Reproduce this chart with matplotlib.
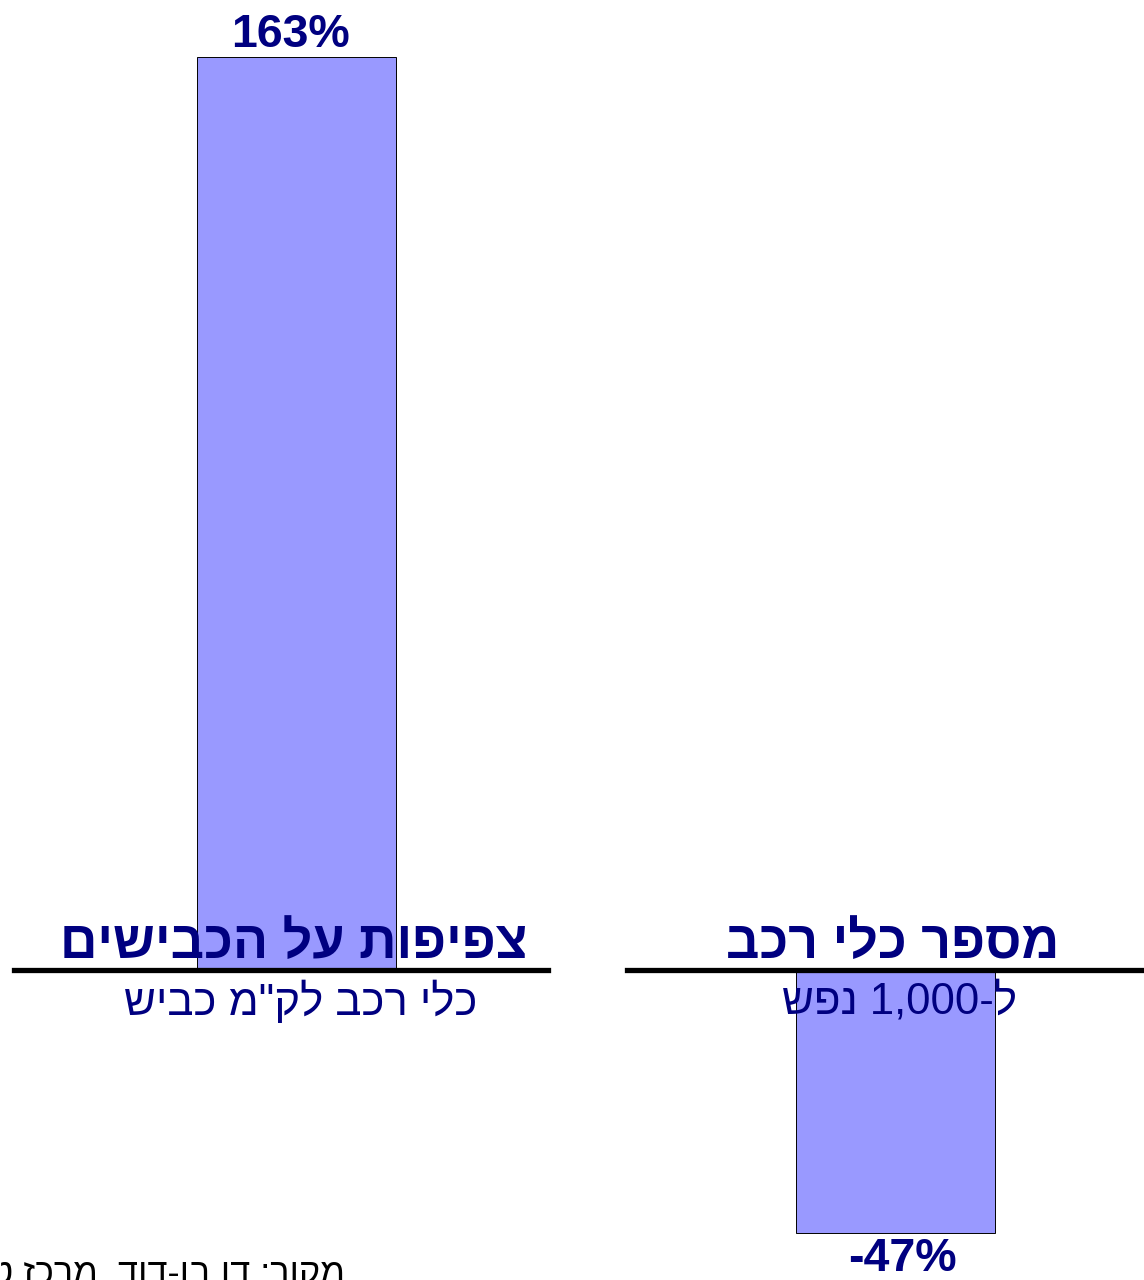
import re

import matplotlib
matplotlib.use("Agg")
import matplotlib.pyplot as plt

plt.rcParams['font.family'] = ['Liberation Sans', 'DejaVu Sans']

# data
titles = ["צפיפות על הכבישים", "מספר כלי רכב"]
subtitles = ['כלי רכב לק"מ כביש', "ל-1,000 נפש"]
changes = [163, -47]
source = "מקור: דן בן-דוד, מרכז טאוב"

NAVY = "#000080"
BAR = "#9999FF"


def rtl(text):
    """matplotlib has no bidi: flip to visual order, keep number runs as they are"""
    flipped = text[::-1]
    return re.sub(r"[0-9][0-9,.]*", lambda m: m.group(0)[::-1], flipped)


fig = plt.figure(figsize=(11.44, 12.8), dpi=100)
ax = fig.add_axes([0, 0, 1, 1])

# zero line sits at y=970px, bar centres at 296.5px and 895.5px
px_per_unit = 599
ax.set_xlim(-296.5 / px_per_unit, (1144 - 296.5) / px_per_unit)
px_per_pct = 5.6
ax.set_ylim(-(1280 - 970) / px_per_pct, 970 / px_per_pct)
ax.axis("off")

xs = list(range(len(changes)))
ax.bar(xs, changes, width=199 / px_per_unit, color=BAR,
       edgecolor="black", linewidth=0.7, zorder=1)

ax.axhline(0, xmin=14 / 1144, xmax=548 / 1144, color="black", lw=3.8, zorder=3)
ax.axhline(0, xmin=627 / 1144, xmax=1.0, color="black", lw=3.8, zorder=3)

for x, val, t, s in zip(xs, changes, titles, subtitles):
    ax.annotate(rtl(t), (x, 0), xytext=(-2, 1), textcoords="offset points",
                ha="center", va="bottom", fontsize=37.5, fontweight="bold",
                color=NAVY, zorder=4)
    ax.annotate(rtl(s), (x, 0), xytext=(3, -8), textcoords="offset points",
                ha="center", va="top", fontsize=31.5, color=NAVY, zorder=4)
    if val >= 0:
        ax.annotate(f"{val}%", (x, val), xytext=(-4, 0), textcoords="offset points",
                    ha="center", va="bottom", fontsize=33.5, fontweight="bold",
                    color=NAVY)
    else:
        ax.annotate(f"{val}%", (x, val), xytext=(5, -3), textcoords="offset points",
                    ha="center", va="top", fontsize=33.5, fontweight="bold",
                    color=NAVY)

fig.text(345 / 1144, 1 - 1257 / 1280, rtl(source), ha="right", va="top",
         fontsize=26, color="black")

fig.savefig("out.png", dpi=100)
